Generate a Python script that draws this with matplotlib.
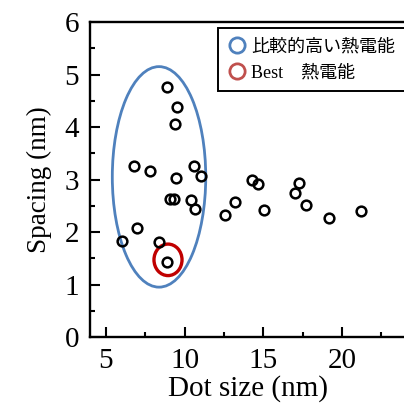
import matplotlib
matplotlib.use("Agg")
import matplotlib.pyplot as plt
from matplotlib.patches import Ellipse
from matplotlib.lines import Line2D

# data
dot_size = [8.91, 9.50, 9.42, 6.82, 7.83, 10.60, 11.05, 9.46, 9.08, 9.31,
            10.39, 10.69, 6.96, 6.01, 8.40, 8.91, 12.59, 13.23, 14.29, 14.67,
            15.03, 17.29, 17.02, 17.73, 19.19, 21.22]
spacing = [4.76, 4.39, 4.06, 3.26, 3.17, 3.26, 3.06, 3.03, 2.63, 2.63,
           2.61, 2.44, 2.07, 1.83, 1.81, 1.42, 2.32, 2.58, 2.99, 2.92,
           2.42, 2.94, 2.74, 2.51, 2.26, 2.40]

high_group = (8.38, 3.05, 5.93, 4.20)   # center x, center y, width, height
best_point = (8.95, 1.47, 1.78, 0.60)

legend_labels = ["比較的高い熱電能", "Best\u3000熱電能"]
xticks = [5, 10, 15, 20]
yticks = [0, 1, 2, 3, 4, 5, 6]

blue = "#4f81bd"
red = "#c00000"
serif = ["Liberation Serif", "Noto Sans CJK JP"]
plt.rcParams["font.family"] = serif

fig = plt.figure(figsize=(4.04, 4.12), dpi=100)
ax = fig.add_axes([0.2228, 0.182, 0.78, 0.7646])

ax.plot(dot_size, spacing, "o", mfc="none", mec="black", ms=7, mew=1.8)

ax.add_patch(Ellipse(high_group[:2], high_group[2], high_group[3],
                     fill=False, ec=blue, lw=2.0))
ax.add_patch(Ellipse(best_point[:2], best_point[2], best_point[3],
                     fill=False, ec=red, lw=2.4))

ax.set_xlim(4, 24)
ax.set_ylim(0, 6)
ax.set_xticks(xticks)
ax.set_yticks(yticks)
ax.set_xticks([7.5, 12.5, 17.5, 22.5], minor=True)
ax.set_yticks([0.5 + i for i in range(6)], minor=True)
ax.tick_params(which="both", direction="in", width=1.5, labelsize=21)
ax.tick_params(which="major", length=7)
ax.tick_params(which="minor", length=3.5)
ax.tick_params(axis="y", pad=8)
ax.tick_params(axis="x", pad=8)
for s in ax.spines.values():
    s.set_linewidth(1.7)

ax.set_xlabel("Dot size (nm)", fontsize=21, labelpad=1)
ax.set_ylabel("Spacing (nm)", fontsize=19.5, labelpad=9)

handles = [Line2D([], [], ls="none", marker="o", ms=11, mfc="none", mec=blue, mew=2),
           Line2D([], [], ls="none", marker="o", ms=11, mfc="none", mec="#c0504d", mew=2)]
leg = ax.legend(handles, legend_labels, loc="upper right", bbox_to_anchor=(1.0, 0.98),
                fancybox=False, framealpha=1, edgecolor="black",
                prop={"family": serif, "size": 13}, handletextpad=0.3,
                borderpad=0.55, labelspacing=0.5, handlelength=1.0, borderaxespad=0.0)
leg.get_frame().set_linewidth(1.4)

fig.savefig("out.png", dpi=100)
